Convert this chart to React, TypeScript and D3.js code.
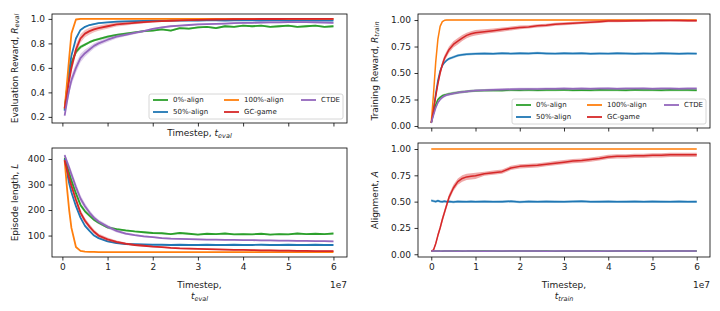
import React, { useEffect, useRef } from 'react'
import * as d3 from 'd3'

const seriesNames = ['0%-align', '50%-align', '100%-align', 'GC-game', 'CTDE']
const seriesColors = ['#2ca02c', '#1f77b4', '#ff7f0e', '#d62728', '#9467bd']
// legend has 3 columns, filled column by column
const legendColumns = [[0, 1], [2, 3], [4]]

const xTicks = [0, 1, 2, 3, 4, 5, 6]
const rewardTicks = [0.2, 0.4, 0.6, 0.8, 1.0]
const lengthTicks = [100, 200, 300, 400]
const unitTicks = [0, 0.25, 0.5, 0.75, 1.0]

// evaluation runs (x in 1e7 timesteps)
const evalSteps = [0.05, 0.1, 0.15, 0.2, 0.3, 0.4, 0.5, 0.6, 0.7, 0.8, 1.0, 1.2, 1.4, 1.6, 1.8, 2.0, 2.2, 2.4, 2.6, 2.8, 3.0, 3.2, 3.4, 3.6, 3.8, 4.0, 4.2, 4.4, 4.6, 4.8, 5.0, 5.2, 5.4, 5.6, 5.8, 6.0]

const evalRewardAlign0 = [0.26, 0.42, 0.55, 0.64, 0.73, 0.77, 0.79, 0.81, 0.825, 0.835, 0.855, 0.87, 0.88, 0.89, 0.9, 0.905, 0.915, 0.905, 0.925, 0.92, 0.93, 0.935, 0.925, 0.94, 0.935, 0.945, 0.94, 0.945, 0.935, 0.94, 0.945, 0.935, 0.94, 0.945, 0.935, 0.94]
const evalRewardAlign50 = [0.25, 0.42, 0.58, 0.7, 0.84, 0.91, 0.935, 0.95, 0.958, 0.965, 0.972, 0.977, 0.98, 0.982, 0.984, 0.985, 0.986, 0.987, 0.986, 0.988, 0.987, 0.988, 0.989, 0.987, 0.988, 0.989, 0.988, 0.987, 0.989, 0.988, 0.987, 0.989, 0.988, 0.987, 0.988, 0.987]
const evalRewardAlign100 = [0.27, 0.47, 0.68, 0.88, 0.995, 1.0, 1.0, 1.0, 1.0, 1.0, 1.0, 1.0, 1.0, 1.0, 1.0, 1.0, 1.0, 1.0, 1.0, 1.0, 1.0, 1.0, 1.0, 1.0, 1.0, 1.0, 1.0, 1.0, 1.0, 1.0, 1.0, 1.0, 1.0, 1.0, 1.0, 1.0]
const evalRewardGC = [0.27, 0.38, 0.5, 0.6, 0.75, 0.84, 0.88, 0.9, 0.915, 0.925, 0.94, 0.955, 0.962, 0.968, 0.973, 0.978, 0.982, 0.985, 0.988, 0.99, 0.992, 0.994, 0.995, 0.996, 0.997, 0.998, 0.998, 0.999, 0.999, 0.999, 1.0, 1.0, 1.0, 1.0, 1.0, 1.0]
const evalRewardCTDE = [0.21, 0.32, 0.42, 0.5, 0.6, 0.68, 0.72, 0.75, 0.78, 0.8, 0.83, 0.855, 0.87, 0.885, 0.9, 0.918, 0.93, 0.94, 0.945, 0.95, 0.955, 0.958, 0.96, 0.962, 0.965, 0.967, 0.968, 0.97, 0.972, 0.972, 0.973, 0.974, 0.973, 0.972, 0.97, 0.968]

const evalRewardSpreadAlign0 = [0.01, 0.02, 0.025, 0.025, 0.02, 0.015, 0.012, 0.01, 0.01, 0.01, 0.01, 0.008, 0.008, 0.008, 0.008, 0.008, 0.008, 0.008, 0.008, 0.008, 0.008, 0.008, 0.008, 0.008, 0.008, 0.008, 0.008, 0.008, 0.008, 0.008, 0.008, 0.008, 0.008, 0.008, 0.008, 0.008]
const evalRewardSpreadGC = [0.01, 0.02, 0.03, 0.035, 0.04, 0.035, 0.03, 0.028, 0.025, 0.022, 0.02, 0.018, 0.015, 0.012, 0.01, 0.006, 0.006, 0.006, 0.006, 0.006, 0.006, 0.006, 0.006, 0.006, 0.006, 0.006, 0.006, 0.006, 0.006, 0.006, 0.006, 0.006, 0.006, 0.006, 0.006, 0.006]
const evalRewardSpreadCTDE = [0.01, 0.025, 0.035, 0.04, 0.04, 0.035, 0.03, 0.025, 0.022, 0.02, 0.018, 0.015, 0.012, 0.01, 0.01, 0.007, 0.007, 0.007, 0.007, 0.007, 0.007, 0.007, 0.007, 0.007, 0.007, 0.007, 0.007, 0.007, 0.007, 0.007, 0.007, 0.007, 0.007, 0.007, 0.007, 0.007]

const lengthAlign0 = [405, 375, 345, 315, 265, 220, 195, 178, 162, 150, 132, 125, 120, 116, 113, 110, 109, 106, 110, 107, 104, 107, 106, 108, 105, 106, 105, 107, 104, 106, 105, 108, 106, 107, 106, 108]
const lengthAlign50 = [400, 350, 305, 270, 215, 170, 138, 118, 100, 90, 77, 70, 67, 66, 65, 64, 64, 63, 64, 63, 63, 64, 63, 63, 64, 63, 63, 64, 63, 63, 64, 63, 63, 64, 63, 63]
const lengthAlign100 = [395, 290, 200, 130, 55, 40, 37, 36, 36, 35, 35, 35, 35, 35, 35, 35, 35, 35, 35, 35, 35, 35, 35, 35, 35, 35, 35, 35, 35, 35, 35, 35, 35, 35, 35, 35]
const lengthGC = [395, 360, 325, 295, 240, 190, 158, 135, 115, 100, 85, 75, 68, 63, 60, 57, 55, 52, 50, 49, 48, 47, 46, 45, 44, 44, 43, 42, 42, 41, 41, 40, 40, 39, 39, 39]
const lengthCTDE = [415, 390, 365, 340, 290, 245, 215, 190, 170, 155, 135, 118, 108, 102, 97, 94, 90, 88, 87, 86, 85, 84, 84, 83, 83, 82, 82, 81, 81, 80, 80, 79, 79, 78, 78, 77]

const lengthSpreadAlign0 = [5, 8, 10, 10, 10, 8, 7, 6, 6, 5, 5, 4, 4, 3, 3, 3, 3, 3, 3, 3, 3, 3, 3, 3, 3, 3, 3, 3, 3, 3, 3, 3, 3, 3, 3, 3]
const lengthSpreadGC = [5, 8, 10, 12, 12, 12, 11, 10, 9, 8, 7, 6, 5, 4, 4, 3, 3, 3, 3, 3, 3, 3, 3, 3, 3, 3, 3, 3, 3, 3, 3, 3, 3, 3, 3, 3]
const lengthSpreadCTDE = [5, 10, 14, 15, 15, 14, 12, 10, 9, 8, 7, 6, 5, 4, 4, 3, 3, 3, 3, 3, 3, 3, 3, 3, 3, 3, 3, 3, 3, 3, 3, 3, 3, 3, 3, 3]

// training runs
const trainSteps = [0, 0.05, 0.1, 0.15, 0.2, 0.25, 0.3, 0.35, 0.4, 0.5, 0.6, 0.7, 0.8, 0.9, 1.0, 1.2, 1.4, 1.6, 1.8, 2.0, 2.2, 2.4, 2.6, 2.8, 3.0, 3.2, 3.4, 3.6, 3.8, 4.0, 4.2, 4.4, 4.6, 4.8, 5.0, 5.2, 5.4, 5.6, 5.8, 6.0]

const trainRewardAlign0 = [0.03, 0.12, 0.2, 0.25, 0.27, 0.285, 0.293, 0.298, 0.303, 0.31, 0.317, 0.322, 0.326, 0.33, 0.333, 0.335, 0.338, 0.336, 0.34, 0.338, 0.341, 0.337, 0.34, 0.339, 0.342, 0.338, 0.34, 0.337, 0.341, 0.339, 0.34, 0.338, 0.342, 0.339, 0.34, 0.337, 0.341, 0.339, 0.34, 0.338]
const trainRewardAlign50 = [0.03, 0.15, 0.3, 0.43, 0.52, 0.57, 0.6, 0.62, 0.635, 0.65, 0.665, 0.672, 0.678, 0.68, 0.682, 0.684, 0.681, 0.686, 0.683, 0.687, 0.684, 0.688, 0.685, 0.683, 0.687, 0.684, 0.686, 0.682, 0.685, 0.683, 0.686, 0.684, 0.681, 0.685, 0.683, 0.686, 0.684, 0.682, 0.685, 0.683]
const trainRewardAlign100 = [0.03, 0.3, 0.6, 0.82, 0.94, 0.985, 0.997, 1.0, 1.0, 1.0, 1.0, 1.0, 1.0, 1.0, 1.0, 1.0, 1.0, 1.0, 1.0, 1.0, 1.0, 1.0, 1.0, 1.0, 1.0, 1.0, 1.0, 1.0, 1.0, 1.0, 1.0, 1.0, 1.0, 1.0, 1.0, 1.0, 1.0, 1.0, 1.0, 1.0]
const trainRewardGC = [0.03, 0.15, 0.28, 0.4, 0.5, 0.58, 0.64, 0.68, 0.72, 0.77, 0.8, 0.83, 0.855, 0.87, 0.88, 0.89, 0.9, 0.91, 0.92, 0.93, 0.935, 0.945, 0.95, 0.96, 0.965, 0.97, 0.975, 0.98, 0.985, 0.99, 0.99, 0.992, 0.993, 0.994, 0.995, 0.995, 0.996, 0.995, 0.994, 0.993]
const trainRewardCTDE = [0.03, 0.1, 0.17, 0.22, 0.25, 0.27, 0.283, 0.292, 0.298, 0.307, 0.315, 0.321, 0.326, 0.33, 0.334, 0.338, 0.341, 0.344, 0.346, 0.348, 0.349, 0.35, 0.352, 0.351, 0.353, 0.352, 0.354, 0.352, 0.353, 0.355, 0.352, 0.354, 0.353, 0.355, 0.352, 0.354, 0.353, 0.352, 0.354, 0.353]
const trainRewardSpreadGC = [0.005, 0.02, 0.03, 0.03, 0.03, 0.03, 0.03, 0.03, 0.03, 0.03, 0.03, 0.028, 0.026, 0.025, 0.025, 0.022, 0.02, 0.02, 0.018, 0.018, 0.016, 0.016, 0.015, 0.015, 0.014, 0.014, 0.013, 0.013, 0.012, 0.012, 0.012, 0.011, 0.011, 0.01, 0.01, 0.01, 0.01, 0.01, 0.01, 0.01]

const alignAlign0 = [0.03, 0.031, 0.03, 0.032, 0.03, 0.029, 0.031, 0.03, 0.032, 0.03, 0.031, 0.029, 0.03, 0.032, 0.03, 0.031, 0.03, 0.029, 0.032, 0.03, 0.031, 0.03, 0.032, 0.029, 0.03, 0.031, 0.03, 0.032, 0.03, 0.029, 0.031, 0.03, 0.032, 0.03, 0.031, 0.029, 0.03, 0.032, 0.03, 0.031]
const alignAlign50 = [0.51, 0.505, 0.5, 0.508, 0.502, 0.498, 0.503, 0.499, 0.501, 0.497, 0.502, 0.5, 0.498, 0.501, 0.499, 0.502, 0.498, 0.5, 0.503, 0.497, 0.501, 0.499, 0.502, 0.5, 0.498, 0.501, 0.503, 0.499, 0.5, 0.502, 0.498, 0.5, 0.501, 0.499, 0.502, 0.5, 0.498, 0.501, 0.499, 0.5]
const alignAlign100 = [1.0, 1.0, 1.0, 1.0, 1.0, 1.0, 1.0, 1.0, 1.0, 1.0, 1.0, 1.0, 1.0, 1.0, 1.0, 1.0, 1.0, 1.0, 1.0, 1.0, 1.0, 1.0, 1.0, 1.0, 1.0, 1.0, 1.0, 1.0, 1.0, 1.0, 1.0, 1.0, 1.0, 1.0, 1.0, 1.0, 1.0, 1.0, 1.0, 1.0]
const alignGC = [0.03, 0.04, 0.1, 0.18, 0.25, 0.33, 0.4, 0.47, 0.54, 0.63, 0.69, 0.72, 0.735, 0.74, 0.745, 0.765, 0.775, 0.785, 0.82, 0.835, 0.84, 0.845, 0.855, 0.865, 0.875, 0.885, 0.89, 0.9, 0.91, 0.925, 0.93, 0.93, 0.935, 0.935, 0.94, 0.94, 0.945, 0.945, 0.945, 0.945]
const alignCTDE = [0.03, 0.03, 0.031, 0.03, 0.029, 0.031, 0.03, 0.03, 0.032, 0.03, 0.029, 0.031, 0.03, 0.031, 0.03, 0.029, 0.031, 0.03, 0.032, 0.03, 0.03, 0.031, 0.029, 0.03, 0.031, 0.03, 0.032, 0.03, 0.029, 0.031, 0.03, 0.031, 0.03, 0.029, 0.031, 0.03, 0.032, 0.03, 0.031, 0.03]
const alignSpreadGC = [0.005, 0.015, 0.02, 0.025, 0.025, 0.03, 0.03, 0.03, 0.03, 0.03, 0.03, 0.03, 0.03, 0.03, 0.03, 0.02, 0.02, 0.02, 0.02, 0.02, 0.02, 0.02, 0.02, 0.02, 0.02, 0.02, 0.02, 0.02, 0.02, 0.02, 0.02, 0.02, 0.02, 0.02, 0.02, 0.02, 0.02, 0.02, 0.02, 0.02]

const FONT = 'DejaVu Sans'

type Label = { text: string; main?: string; sub?: string }

type Panel = {
  left: number
  top: number
  width: number
  height: number
  xDomain: [number, number]
  yDomain: [number, number]
  yTicks: number[]
  yFormat: string
  xTickLabels: boolean
  steps: number[]
  values: number[][]
  spreads: (number | number[])[]
  lineWidth: number
  bandOpacity: number
  yLabel: Label
  yLabelX: number
  xLabel?: Label[]
  xLabelY?: number[]
  legend?: boolean
}

const panels: Panel[] = [
  {
    left: 52, top: 14, width: 295, height: 109,
    xDomain: [-0.23, 6.3], yDomain: [0.15, 1.04], yTicks: rewardTicks, yFormat: '.1f', xTickLabels: false,
    steps: evalSteps,
    values: [evalRewardAlign0, evalRewardAlign50, evalRewardAlign100, evalRewardGC, evalRewardCTDE],
    spreads: [evalRewardSpreadAlign0, 0.006, 0.003, evalRewardSpreadGC, evalRewardSpreadCTDE],
    lineWidth: 1.8, bandOpacity: 0.3,
    yLabel: { text: 'Evaluation Reward, ', main: 'R', sub: 'eval' }, yLabelX: 15,
    xLabel: [{ text: 'Timestep, ', main: 't', sub: 'eval' }], xLabelY: [136],
    legend: true,
  },
  {
    left: 52, top: 148, width: 295, height: 109,
    xDomain: [-0.23, 6.3], yDomain: [16, 443], yTicks: lengthTicks, yFormat: 'd', xTickLabels: true,
    steps: evalSteps,
    values: [lengthAlign0, lengthAlign50, lengthAlign100, lengthGC, lengthCTDE],
    spreads: [lengthSpreadAlign0, 2, 1, lengthSpreadGC, lengthSpreadCTDE],
    lineWidth: 1.8, bandOpacity: 0.3,
    yLabel: { text: 'Episode length, ', main: 'L' }, yLabelX: 15,
    xLabel: [{ text: 'Timestep,' }, { text: '', main: 't', sub: 'eval' }], xLabelY: [288, 299],
  },
  {
    left: 418, top: 14, width: 292, height: 114,
    xDomain: [-0.3, 6.3], yDomain: [-0.019, 1.057], yTicks: unitTicks, yFormat: '.2f', xTickLabels: false,
    steps: trainSteps,
    values: [trainRewardAlign0, trainRewardAlign50, trainRewardAlign100, trainRewardGC, trainRewardCTDE],
    spreads: [0.012, 0.012, 0.004, trainRewardSpreadGC, 0.012],
    lineWidth: 1.5, bandOpacity: 0.4,
    yLabel: { text: 'Training Reward, ', main: 'R', sub: 'train' }, yLabelX: 375,
    legend: true,
  },
  {
    left: 418, top: 143, width: 292, height: 114,
    xDomain: [-0.3, 6.3], yDomain: [-0.026, 1.057], yTicks: unitTicks, yFormat: '.2f', xTickLabels: true,
    steps: trainSteps,
    values: [alignAlign0, alignAlign50, alignAlign100, alignGC, alignCTDE],
    spreads: [0.006, 0.012, 0.003, alignSpreadGC, 0.006],
    lineWidth: 1.5, bandOpacity: 0.4,
    yLabel: { text: 'Alignment, ', main: 'A' }, yLabelX: 375,
    xLabel: [{ text: 'Timestep,' }, { text: '', main: 't', sub: 'train' }], xLabelY: [288, 299],
  },
]

function writeLabel(t: any, lab: Label) {
  t.append('tspan').text(lab.text)
  if (lab.main) t.append('tspan').attr('font-style', 'italic').text(lab.main)
  if (lab.sub) t.append('tspan').attr('font-style', 'italic').attr('font-size', 6.5).attr('dy', 2).text(lab.sub)
}

function drawPanel(svg: any, p: Panel) {
  const x = d3.scaleLinear().domain(p.xDomain).range([p.left, p.left + p.width])
  const y = d3.scaleLinear().domain(p.yDomain).range([p.top + p.height, p.top])
  const g = svg.append('g')

  p.values.forEach((vals, i) => {
    const spread = p.spreads[i]
    const pts = p.steps.map((t, j) => ({
      t, v: vals[j], s: typeof spread === 'number' ? spread : spread[j],
    }))
    const area = d3.area<any>().x(d => x(d.t)).y0(d => y(d.v - d.s)).y1(d => y(d.v + d.s))
    const line = d3.line<any>().x(d => x(d.t)).y(d => y(d.v))
    g.append('path').datum(pts).attr('d', area).attr('fill', seriesColors[i]).attr('opacity', p.bandOpacity)
    g.append('path').datum(pts).attr('d', line).attr('fill', 'none')
      .attr('stroke', seriesColors[i]).attr('stroke-width', p.lineWidth).attr('stroke-linejoin', 'round')
  })

  // axes
  const yAxis = d3.axisLeft(y).tickValues(p.yTicks).tickSize(3.5).tickPadding(3.5)
    .tickFormat(d3.format(p.yFormat) as any)
  const gy = g.append('g').attr('transform', `translate(${p.left},0)`).call(yAxis)
  const xAxis = d3.axisBottom(x).tickValues(xTicks).tickSize(3.5).tickPadding(3.5)
    .tickFormat((d: any) => (p.xTickLabels ? String(d) : ''))
  const gx = g.append('g').attr('transform', `translate(0,${p.top + p.height})`).call(xAxis)
  for (const ax of [gx, gy]) {
    ax.select('.domain').remove()
    ax.selectAll('line').attr('stroke', '#000').attr('stroke-width', 0.8)
    ax.selectAll('text').attr('font-size', 9).attr('font-family', FONT).attr('fill', '#222')
  }

  g.append('rect').attr('x', p.left).attr('y', p.top).attr('width', p.width).attr('height', p.height)
    .attr('fill', 'none').attr('stroke', '#000').attr('stroke-width', 0.8)

  // y label
  const yl = g.append('text')
    .attr('transform', `translate(${p.yLabelX},${p.top + p.height / 2}) rotate(-90)`)
    .attr('text-anchor', 'middle').attr('dominant-baseline', 'middle')
    .attr('font-size', 9).attr('font-family', FONT).attr('fill', '#222')
  writeLabel(yl, p.yLabel)

  // x label
  if (p.xLabel && p.xLabelY) {
    p.xLabel.forEach((lab, k) => {
      const xl = g.append('text').attr('x', p.left + p.width / 2).attr('y', p.xLabelY![k])
        .attr('text-anchor', 'middle').attr('font-size', 9).attr('font-family', FONT).attr('fill', '#222')
      writeLabel(xl, lab)
    })
  }
  if (p.xTickLabels) {
    g.append('text').attr('x', p.left + p.width).attr('y', 288).attr('text-anchor', 'end')
      .attr('font-size', 9).attr('font-family', FONT).attr('fill', '#222').text('1e7')
  }

  if (p.legend) {
    const lw = 194
    const lh = 25
    const lx = p.left + p.width - lw - 4
    const ly = p.top + p.height - lh - 4
    const lg = g.append('g')
    lg.append('rect').attr('x', lx).attr('y', ly).attr('width', lw).attr('height', lh).attr('rx', 2)
      .attr('fill', '#fff').attr('fill-opacity', 0.85).attr('stroke', '#ccc').attr('stroke-width', 0.8)
    const colX = [4, 75, 152]
    legendColumns.forEach((col, c) => {
      col.forEach((si, r) => {
        const yy = ly + 6 + r * 12
        lg.append('line').attr('x1', lx + colX[c]).attr('x2', lx + colX[c] + 15).attr('y1', yy).attr('y2', yy)
          .attr('stroke', seriesColors[si]).attr('stroke-width', 1.8)
        lg.append('text').attr('x', lx + colX[c] + 20).attr('y', yy).attr('dominant-baseline', 'middle')
          .attr('font-size', 7).attr('font-family', FONT).attr('fill', '#222').text(seriesNames[si])
      })
    })
  }
}

export default function App() {
  const ref = useRef<SVGSVGElement>(null)
  useEffect(() => {
    const svg = d3.select(ref.current)
    svg.selectAll('*').remove()
    panels.forEach(p => drawPanel(svg, p))
  }, [])
  return (
    <svg ref={ref} width={720} height={311}
      style={{ position: 'absolute', left: 0, top: 0, background: '#fff' }} />
  )
}
